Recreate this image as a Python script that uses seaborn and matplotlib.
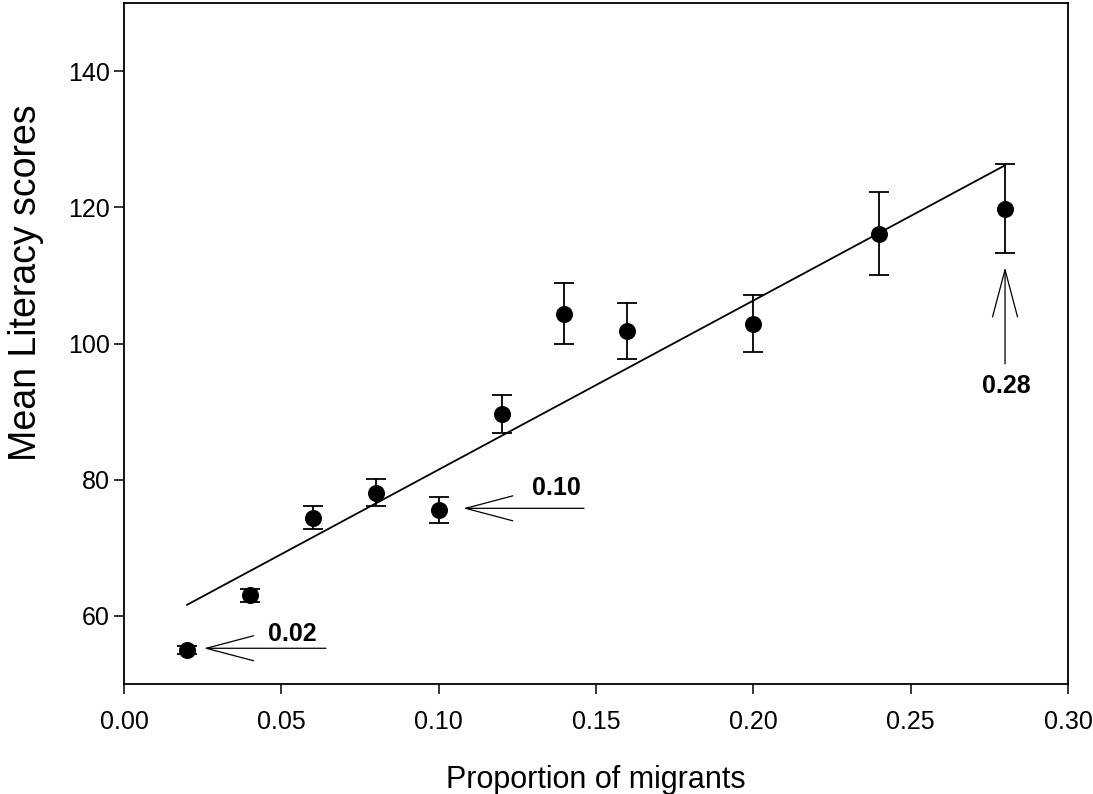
"""
Proportion of migrants vs mean literacy scores, with error bars,
a fitted regression line and three arrow annotations.
Output: out.png
"""

import matplotlib
matplotlib.use('Agg')
import matplotlib.pyplot as plt
import seaborn as sns
import pandas as pd

# data
proportion = [0.02, 0.04, 0.06, 0.08, 0.10, 0.12, 0.14, 0.16, 0.20, 0.24, 0.28]
mean_score = [55.0, 63.0, 74.4, 78.1, 75.6, 89.6, 104.4, 101.8, 102.9, 116.1, 119.8]
score_err = [0.6, 0.9, 1.7, 2.0, 1.9, 2.8, 4.5, 4.1, 4.2, 6.1, 6.5]

x_ticks = [0.00, 0.05, 0.10, 0.15, 0.20, 0.25, 0.30]
y_ticks = [60, 80, 100, 120, 140]

# annotation labels: (text, arrow tip, arrow tail, text position)
callouts = [
    ('0.02', (0.0254, 55.25), (0.0642, 55.25), (0.0534, 57.4)),
    ('0.10', (0.1078, 75.8), (0.1462, 75.8), (0.1373, 78.8)),
    ('0.28', (0.28, 111.2), (0.28, 97.0), (0.2803, 93.8)),
]

df = pd.DataFrame({'prop': proportion, 'score': mean_score, 'err': score_err})

sns.set_style('ticks')
plt.rcParams['font.family'] = ['Liberation Sans', 'DejaVu Sans']
for key in ['text.color', 'axes.labelcolor', 'xtick.color', 'ytick.color']:
    plt.rcParams[key] = 'black'

fig = plt.figure(figsize=(10.93, 7.94), dpi=100)
ax = fig.add_axes([0.1134, 0.1385, 0.8637, 0.8577])

# regression line (least squares over the data range)
sns.regplot(data=df, x='prop', y='score', scatter=False, ci=None, truncate=True,
            line_kws={'color': 'black', 'linewidth': 1.3}, ax=ax)

# error bars + points
ax.errorbar(df['prop'], df['score'], yerr=df['err'], fmt='none', ecolor='black',
            elinewidth=1.3, capsize=7.5, capthick=1.3, zorder=3)
sns.scatterplot(data=df, x='prop', y='score', color='black', s=150,
                edgecolor='black', linewidth=0, zorder=4, ax=ax)

# arrows and bold labels
for label, tip, tail, txt in callouts:
    ax.annotate('', xy=tip, xytext=tail,
                arrowprops=dict(arrowstyle='->,head_length=3.4,head_width=0.9',
                                color='black', lw=0.9, shrinkA=0, shrinkB=0))
    ax.text(txt[0], txt[1], label, fontsize=18, fontweight='bold',
            ha='center', va='center')

ax.set_xlim(0, 0.30)
ax.set_ylim(50, 150)
ax.set_xticks(x_ticks)
ax.set_xticklabels([f'{v:.2f}' for v in x_ticks])
ax.set_yticks(y_ticks)

for side in ['top', 'right', 'left', 'bottom']:
    ax.spines[side].set_visible(True)
    ax.spines[side].set_linewidth(1.3)
    ax.spines[side].set_color('black')

ax.tick_params(axis='x', direction='out', length=7, width=1.1, labelsize=18, pad=12)
ax.tick_params(axis='y', direction='out', length=7, width=1.1, labelsize=18, pad=3)

ax.set_xlabel('Proportion of migrants', fontsize=22, labelpad=22)
ax.set_ylabel('Mean Literacy scores', fontsize=27)
ax.yaxis.set_label_coords(-0.085, 0.59)

plt.savefig('out.png', dpi=100)
plt.close()
